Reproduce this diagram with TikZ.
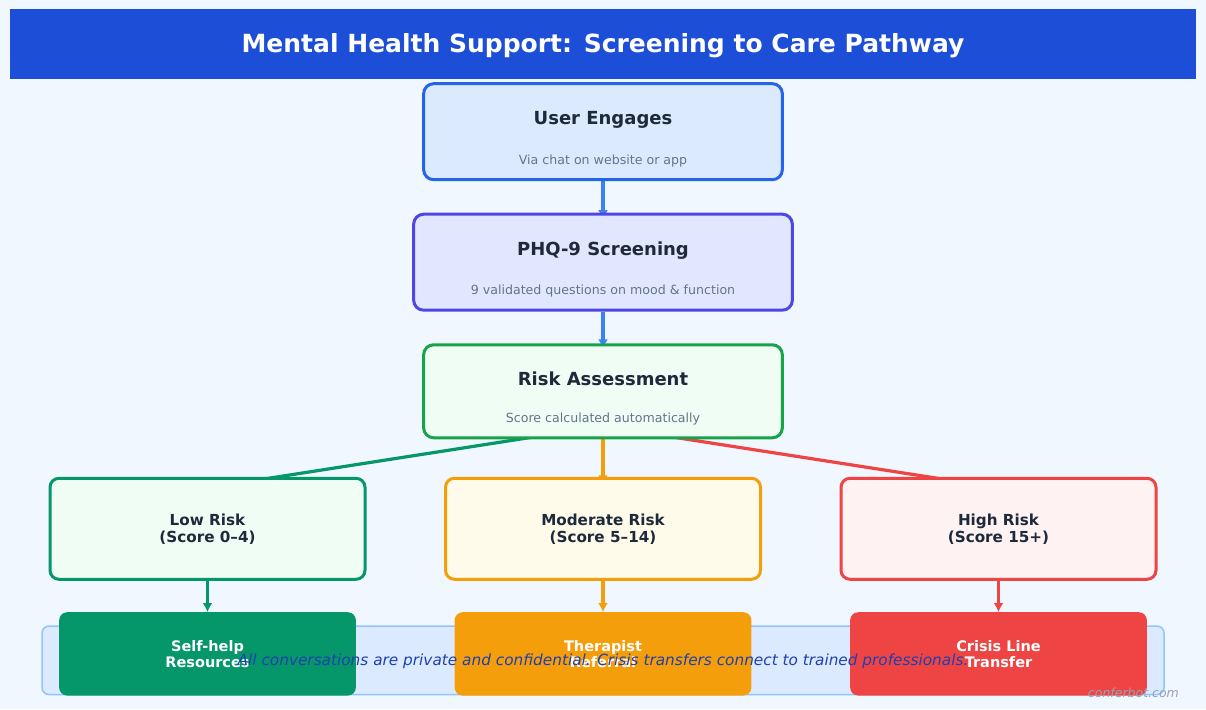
\documentclass[tikz,border=0pt]{standalone}
\usepackage{xcolor}
\usepackage{fontspec}
\setmainfont{DejaVu Sans}
\usepackage{tikz}
\definecolor{pagebg}{HTML}{F0F7FF}
\definecolor{headblue}{HTML}{1D4ED8}
\definecolor{inktext}{HTML}{1E293B}
\definecolor{subtext}{HTML}{64748B}
\definecolor{arrowblue}{HTML}{3B82F6}
\definecolor{userfill}{HTML}{DBEAFE}
\definecolor{userline}{HTML}{2563EB}
\definecolor{phqfill}{HTML}{E0E7FF}
\definecolor{phqline}{HTML}{4F46E5}
\definecolor{riskfill}{HTML}{F0FDF4}
\definecolor{riskline}{HTML}{16A34A}
\definecolor{lowline}{HTML}{059669}
\definecolor{modfill}{HTML}{FFFBEB}
\definecolor{modline}{HTML}{F59E0B}
\definecolor{highfill}{HTML}{FEF2F2}
\definecolor{highline}{HTML}{EF4444}
\definecolor{bandline}{HTML}{93C5FD}
\definecolor{notetext}{HTML}{1E40AF}
\definecolor{marktext}{HTML}{94A3B8}
\usetikzlibrary{arrows.meta, backgrounds}
\newcommand{\boxhead}[1]{{\fontsize{18}{20}\selectfont\bfseries\rule{0pt}{28pt}#1}}
\newcommand{\boxsub}[1]{{\fontsize{12.6}{15}\selectfont\color{subtext} #1}}
\tikzset{
	stepbox/.style={draw, rectangle, rounded corners=10pt, line width=3pt, align=center, text=inktext, inner sep=0pt, minimum width=358.7pt},
	riskbox/.style={draw, rectangle, rounded corners=9pt, line width=3pt, align=center, text=inktext, inner sep=0pt, minimum width=315pt, minimum height=101pt, font=\fontsize{15.2}{17}\selectfont\bfseries, execute at begin node=\rule{0pt}{17.5pt}},
	actionbox/.style={rectangle, rounded corners=8pt, align=center, text=white, inner sep=0pt, minimum width=296.7pt, minimum height=83.3pt, font=\fontsize{14.5}{16}\selectfont\bfseries},
	flow/.style={->, line width=3.2pt}
}
\begin{document}
\begin{tikzpicture}[x=1pt, y=1pt, >={Latex[length=9pt,width=10pt]}, node distance=130pt]
	\useasboundingbox (0,0) rectangle (1206,709);

	\node[rectangle, fill=headblue, text=white, minimum width=1186pt, minimum height=70pt, inner sep=0pt, text height=22pt, text depth=5pt, font=\fontsize{25}{28}\selectfont\bfseries] (header) at (603,665) {Mental Health Support: Screening to Care Pathway};

	\node[stepbox, fill=userfill, draw=userline, minimum height=96pt] (user) at (603,577.3) {\boxhead{User Engages}\\[25pt]\boxsub{Via chat on website or app}};

	\node[stepbox, fill=phqfill, draw=phqline, minimum width=378.7pt, minimum height=96pt, below of= user, yshift=-.5pt] (phq) {\boxhead{PHQ-9 Screening}\\[25pt]\boxsub{9 validated questions on mood \& function}};

	\node[stepbox, fill=riskfill, draw=riskline, minimum height=93pt, below of= phq, yshift=.9pt] (risk) {\boxhead{Risk Assessment}\\[25pt]\boxsub{Score calculated automatically}};

	\node[riskbox, fill=modfill, draw=modline, below of= risk, yshift=-7.5pt] (moderate) {Moderate Risk\\(Score 5–14)};

	\node[riskbox, fill=riskfill, draw=lowline, left of= moderate, xshift=-265.5pt] (low) {Low Risk\\(Score 0–4)};

	\node[riskbox, fill=highfill, draw=highline, right of= moderate, xshift=265.5pt] (high) {High Risk\\(Score 15+)};

	% band sits under the three bottom boxes, its text on top of them
	\node[rectangle, rounded corners=7pt, draw=bandline, fill=userfill, line width=1.5pt, minimum width=1122pt, minimum height=68.5pt] (band) at (603,48.7) {};

	\node[actionbox, fill=lowline, below of= low, yshift=4.9pt] (selfhelp) {Self-help\\Resources};

	\node[actionbox, fill=modline, below of= moderate, yshift=4.9pt] (therapist) {Therapist\\Referral};

	\node[actionbox, fill=highline, below of= high, yshift=4.9pt] (crisis) {Crisis Line\\Transfer};

	\node[text=notetext, inner sep=0pt, font=\fontsize{15.3}{17}\selectfont\itshape, yshift=-1pt] (note) at (band.center) {All conversations are private and confidential. Crisis transfers connect to trained professionals.};

	\node[text=marktext, inner sep=0pt, font=\fontsize{12.5}{15}\selectfont\itshape, anchor=east] (mark) at (1179,16) {conferbot.com};

	\begin{scope}[on background layer]
		\fill[pagebg] (0,0) rectangle (1206,709);

		\draw[flow, arrowblue, shorten >=-6.5pt] (user) -- (phq);

		\draw[flow, arrowblue, shorten >=-5pt] (phq) -- (risk);

		\draw[flow, lowline] ([yshift=-34.9pt]risk.center) -- ([yshift=-11pt]low.north);

		\draw[flow, modline, shorten >=-7.5pt] (risk) -- (moderate);

		\draw[flow, highline] ([yshift=-34.9pt]risk.center) -- ([yshift=-11pt]high.north);
	\end{scope}

	\draw[flow, lowline] (low) -- (selfhelp);

	\draw[flow, modline] (moderate) -- (therapist);

	\draw[flow, highline] (high) -- (crisis);
\end{tikzpicture}
\end{document}
